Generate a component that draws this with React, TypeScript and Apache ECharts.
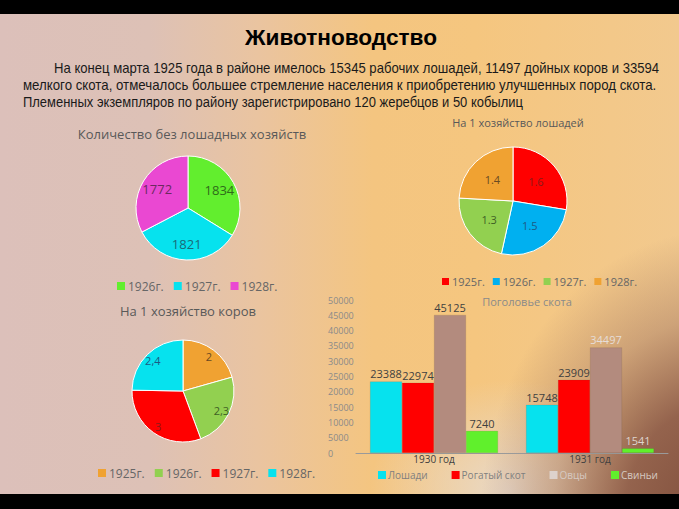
import React, { useEffect, useRef } from 'react';
import * as echarts from 'echarts';

const headline = 'Животноводство';
const paragraphLines = [
  'На конец марта 1925 года в районе имелось 15345 рабочих лошадей, 11497 дойных коров и 33594',
  'мелкого скота, отмечалось большее стремление населения к приобретению улучшенных пород скота.',
  'Племенных экземпляров по району зарегистрировано 120 жеребцов и 50 кобылиц',
];

const pie1Title = 'Количество без лошадных хозяйств';
const pie1Names = ['1926г.', '1927г.', '1928г.'];
const pie1Values = [1834, 1821, 1772];

const pie2Title = 'На 1 хозяйство лошадей';
const pie2Names = ['1925г.', '1926г.', '1927г.', '1928г.'];
const pie2Values = [1.6, 1.5, 1.3, 1.4];

const pie3Title = 'На 1 хозяйство коров';
const pie3Names = ['1925г.', '1926г.', '1927г.', '1928г.'];
const pie3Values = [2, 2.3, 3, 2.4];

const barTitle = 'Поголовье скота';
const barCategories = ['1930 год', '1931 год'];
const seriesNames = ['Лошади', 'Рогатый скот', 'Овцы', 'Свиньи'];
const horses = [23388, 15748];
const cattle = [22974, 23909];
const sheep = [45125, 34497];
const pigs = [7240, 1541];

// styles
const pie1Colors = ['#62ee2e', '#06e2ee', '#ea48d2'];
const pie1LabelColors = ['#2f6b1a', '#1b6a78', '#6b2a60'];
const pie2Colors = ['#ff0000', '#00b0f0', '#92d050', '#f0a232'];
const pie2LabelColors = ['#8a1a1a', '#1d5a85', '#3f5f25', '#6a4a22'];
const pie3Colors = ['#f0a232', '#92d050', '#ff0000', '#06e2ee'];
const pie3LabelColors = ['#6a4a22', '#3f5f25', '#8a1a1a', '#1d5a85'];
const barColors = ['#06e2ee', '#ff0000', '#b38b7e', '#60f02c'];
const barLegendColors = ['#06e2ee', '#ff0000', '#ddd2cc', '#60f02c'];
const barLegendTextColors = ['#7f7f7f', '#7f7f7f', '#d6cac2', '#d6cac2'];

const TFONT = "'Liberation Sans', Arial, sans-serif";
const CFONT = "'Open Sans', 'Noto Sans', sans-serif";

function measure(text: string, font: string): number {
  const c = document.createElement('canvas').getContext('2d');
  if (!c) return 1;
  c.font = font;
  return c.measureText(text).width || 1;
}

function pieData(names: string[], values: number[], colors: string[], labelColors: string[], transparent: boolean) {
  return names.map((n, i) => ({
    name: n,
    value: values[i],
    itemStyle: transparent ? { color: 'rgba(0,0,0,0)', borderWidth: 0 } : { color: colors[i] },
    label: { color: labelColors[i] },
  }));
}

function legendData(names: string[], colors: string[], textColors?: string[]) {
  return names.map((n, i) => ({
    name: n,
    itemStyle: { color: colors[i], borderWidth: 0 },
    ...(textColors ? { textStyle: { color: textColors[i] } } : {}),
  }));
}

export default function App() {
  const ref = useRef<HTMLDivElement>(null);
  useEffect(() => {
    const chart = echarts.init(ref.current!, null, { renderer: 'svg' });
    const pieCommon = {
      type: 'pie',
      startAngle: 90,
      clockwise: true,
      itemStyle: { borderColor: '#ffffff', borderWidth: 1 },
      labelLine: { show: false },
      silent: true,
    };
    const barSeriesValues = [horses, cattle, sheep, pigs];
    const barLabelColors = [
      ['#404040', '#404040'],
      ['#404040', '#404040'],
      ['#404040', '#e6ddd8'],
      ['#404040', '#ddd4ce'],
    ];
    const headFont = `bold 22px ${TFONT}`;
    const paraFont = `14px ${TFONT}`;
    const headScale = 192 / measure(headline, headFont);
    const lineX = [54, 23, 23];
    const lineY = [68, 85, 102];
    const lineW = [606, 634, 500];
    const paraGraphics = paragraphLines.map((t, i) => ({
      type: 'text',
      x: lineX[i],
      y: lineY[i],
      scaleX: lineW[i] / measure(t, paraFont),
      style: { text: t, fontSize: 14, fontFamily: TFONT, fill: '#1a1a1a', align: 'left', verticalAlign: 'middle' },
    }));
    const option: any = {
      animation: false,
      textStyle: { fontFamily: CFONT },
      title: [
        { text: pie1Title, left: 187, top: 122, textAlign: 'center', textStyle: { fontSize: 13, fontWeight: 'normal', color: '#595959', fontFamily: CFONT } },
        { text: pie2Title, left: 513, top: 112, textAlign: 'center', textStyle: { fontSize: 11, fontWeight: 'normal', color: '#595959', fontFamily: CFONT } },
        { text: pie3Title, left: 183, top: 299, textAlign: 'center', textStyle: { fontSize: 13, fontWeight: 'normal', color: '#595959', fontFamily: CFONT } },
        { text: barTitle, left: 522, top: 291, textAlign: 'center', textStyle: { fontSize: 11, fontWeight: 'normal', color: '#8a8a8a', fontFamily: CFONT } },
      ],
      legend: [
        { data: legendData(pie1Names, pie1Colors), left: 112, top: 275, itemWidth: 8, itemHeight: 8, itemGap: 10, icon: 'rect', selectedMode: false, textStyle: { fontSize: 12, color: '#666666', padding: [0, 0, 0, -2] } },
        { data: legendData(pie2Names, pie2Colors), left: 437, top: 271, itemWidth: 7, itemHeight: 7, itemGap: 8, icon: 'rect', selectedMode: false, textStyle: { fontSize: 11, color: '#666666', padding: [0, 0, 0, -2] } },
        { data: legendData(pie3Names, pie3Colors), left: 93, top: 462, itemWidth: 8, itemHeight: 8, itemGap: 10, icon: 'rect', selectedMode: false, textStyle: { fontSize: 12, color: '#666666', padding: [0, 0, 0, -2] } },
        { data: legendData(seriesNames, barLegendColors, barLegendTextColors), left: 378, top: 470, width: 300, padding: 0, itemWidth: 8, itemHeight: 8, itemGap: 24, icon: 'rect', selectedMode: false, textStyle: { fontSize: 10, color: '#7f7f7f', padding: [0, 0, 0, -3] } },
      ],
      grid: { left: 356, width: 312, top: 300, height: 153 },
      xAxis: {
        type: 'category',
        data: barCategories,
        axisLine: { show: true, lineStyle: { color: '#9a9a9a', width: 1 } },
        axisTick: { show: false },
        axisLabel: { fontSize: 10, color: '#404040', margin: 1 },
      },
      yAxis: {
        type: 'value',
        min: 0,
        max: 50000,
        interval: 5000,
        splitLine: { show: false },
        axisLine: { show: false },
        axisTick: { show: false },
        axisLabel: { fontSize: 9, color: '#8a8a8a', align: 'left', margin: 28, formatter: (v: number) => String(v) },
      },
      series: [
        { ...pieCommon, name: 'p1', center: [188, 208], radius: 52, label: { show: false }, data: pieData(pie1Names, pie1Values, pie1Colors, pie1LabelColors, false) },
        { ...pieCommon, name: 'p1l', center: [188, 208], radius: [14, 52], itemStyle: { borderWidth: 0 }, label: { show: true, position: 'inside', fontSize: 13, formatter: '{c}' }, data: pieData(pie1Names, pie1Values, pie1Colors, pie1LabelColors, true) },
        { ...pieCommon, name: 'p2', center: [513, 201], radius: 54, label: { show: true, position: 'inside', fontSize: 11, formatter: '{c}' }, data: pieData(pie2Names, pie2Values, pie2Colors, pie2LabelColors, false) },
        { ...pieCommon, name: 'p3', center: [183, 391], radius: 51, label: { show: false }, data: pieData(pie3Names, pie3Values, pie3Colors, pie3LabelColors, false) },
        { ...pieCommon, name: 'p3l', center: [183, 391], radius: [29, 51], itemStyle: { borderWidth: 0 }, label: { show: true, position: 'inside', fontSize: 11, formatter: (p: any) => String(p.value).replace('.', ',') }, data: pieData(pie3Names, pie3Values, pie3Colors, pie3LabelColors, true) },
        ...barSeriesValues.map((vals, si) => ({
          type: 'bar',
          name: seriesNames[si],
          barWidth: 32,
          barGap: '0%',
          itemStyle: { color: barColors[si], borderColor: 'rgba(90,60,50,0.25)', borderWidth: 0.5 },
          label: { show: true, position: 'top', distance: 2, fontSize: 11, fontFamily: CFONT },
          data: vals.map((v, i) => ({ value: v, label: { color: barLabelColors[si][i] } })),
        })),
      ],
      graphic: [
        { type: 'rect', left: 0, top: 0, shape: { width: 679, height: 14 }, style: { fill: '#000000' }, z: 100 },
        { type: 'rect', left: 0, top: 494, shape: { width: 679, height: 15 }, style: { fill: '#000000' }, z: 100 },
        { type: 'text', x: 341, y: 38, scaleX: headScale, style: { text: headline, fontSize: 22, fontWeight: 'bold', fontFamily: TFONT, fill: '#000000', align: 'center', verticalAlign: 'middle' } },
        ...paraGraphics,
      ],
    };
    chart.setOption(option);
    return () => chart.dispose();
  }, []);
  const bg = [
    'radial-gradient(ellipse 240px 290px at 720px 520px, rgba(125,76,58,1) 0%, rgba(138,88,70,0.9) 40%, rgba(160,115,95,0.45) 70%, rgba(180,140,120,0) 100%)',
    'radial-gradient(ellipse 140px 110px at 510px 490px, rgba(232,218,204,0.95) 0%, rgba(232,218,204,0.5) 50%, rgba(232,218,204,0) 100%)',
    'linear-gradient(90deg, #dcc0ba 0%, #ddc1b6 22%, #eac4a0 38%, #f4c580 55%, #f5c67f 70%, #f2c98e 100%)',
  ].join(',');
  return (
    <div
      ref={ref}
      style={{ position: 'fixed', left: 0, top: 0, width: 679, height: 509, background: bg }}
    />
  );
}
